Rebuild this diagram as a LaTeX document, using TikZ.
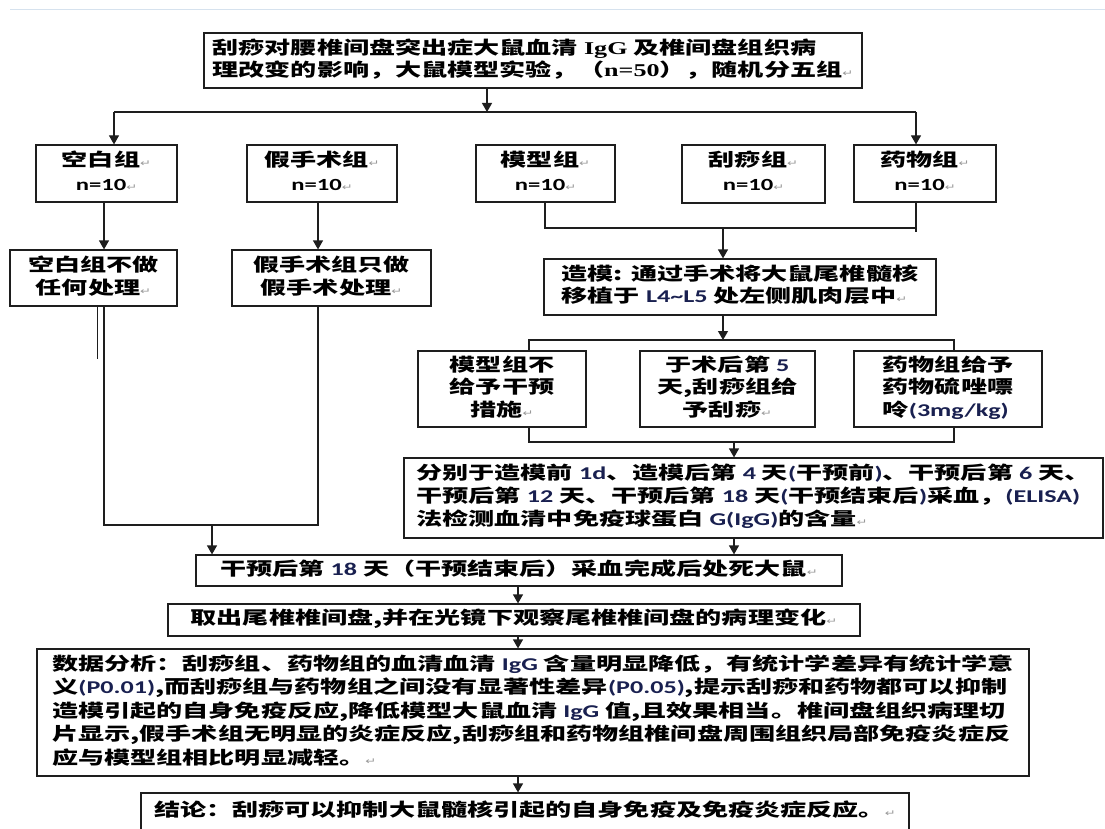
\documentclass[tikz,border=0pt]{standalone}
\usepackage{fontspec}
\usepackage{graphicx}
\setmainfont{Noto Sans CJK SC}
\newfontfamily\calfont{Carlito}
\newfontfamily\serfont{Liberation Serif}
\newfontfamily\dvfont{DejaVu Sans}
\usetikzlibrary{arrows.meta}
\definecolor{navy}{RGB}{25,32,80}
\definecolor{faint}{RGB}{214,226,238}
\definecolor{ink}{RGB}{30,30,30}
\newcommand\xs[1]{\scalebox{1.45}[1]{#1}}
\newcommand\rt{{\fontsize{9}{9}\selectfont\mdseries\dvfont\color{gray!80}↵}}
\newcommand\lt[1]{{\calfont\bfseries\color{navy}#1}}
\newcommand\nten{{\calfont\bfseries\fontsize{17}{17}\selectfont n=10}}
\newcommand\tl[2]{\xs{\begin{tabular}{@{}#1@{}}#2\end{tabular}}}
\tikzset{
  box/.style={draw=ink, line width=1.2pt, inner sep=0pt, text=black,
    font=\bfseries\fontsize{18}{23}\selectfont},
  conn/.style={draw=ink, line width=1.2pt},
  arr/.style={draw=ink, line width=1.2pt, -{Triangle[width=10pt,length=9pt]}},
}
\begin{document}
\begin{tikzpicture}[x=1pt,y=-1pt]
\useasboundingbox (0,0) rectangle (1105,829);
\clip (0,0) rectangle (1105,829);
\fill[white] (0,0) rectangle (1105,829);
\draw[faint, line width=1pt] (10,10) -- (1105,10);

% top
\node[box, minimum width=658pt, minimum height=55pt, font=\bfseries\fontsize{18}{21}\selectfont] (top) at (533,60.5)
  {\tl{l}{刮痧对腰椎间盘突出症大鼠血清 {\serfont IgG} 及椎间盘组织病\\理改变的影响，大鼠模型实验，（{\serfont n=50}），随机分五组\rt}};

% row 1
\node[box, minimum width=141pt, minimum height=57pt, font=\bfseries\fontsize{18}{24}\selectfont] (kb) at (106.5,173.5) {\tl{c}{空白组\rt\\\nten\rt}};
\node[box, minimum width=150pt, minimum height=57pt, font=\bfseries\fontsize{18}{24}\selectfont] (js) at (322,173.5) {\tl{c}{假手术组\rt\\\nten\rt}};
\node[box, minimum width=139pt, minimum height=57pt, font=\bfseries\fontsize{18}{24}\selectfont] (mx) at (545.5,173.5) {\tl{c}{模型组\rt\\\nten\rt}};
\node[box, minimum width=143pt, minimum height=58pt, font=\bfseries\fontsize{18}{24}\selectfont] (gs) at (753.5,174) {\tl{c}{刮痧组\rt\\\nten\rt}};
\node[box, minimum width=142pt, minimum height=57pt, font=\bfseries\fontsize{18}{24}\selectfont] (yw) at (925,173.5) {\tl{c}{药物组\rt\\\nten\rt}};

% row 2 left
\node[box, minimum width=167pt, minimum height=56pt] (kb2) at (93.5,278) {\tl{c}{空白组不做\\任何处理\rt}};
\node[box, minimum width=199pt, minimum height=56pt] (js2) at (331.5,278) {\tl{c}{假手术组只做\\假手术处理\rt}};

% right column
\node[box, minimum width=392pt, minimum height=56pt, font=\bfseries\fontsize{18}{21}\selectfont] (zm) at (740,287)
  {\tl{l}{造模: 通过手术将大鼠尾椎髓核\\移植于 \lt{L4\textasciitilde L5} 处左侧肌肉层中\rt}};
\node[box, minimum width=168pt, minimum height=76pt, font=\bfseries\fontsize{18}{22.5}\selectfont] (mx2) at (502,389) {\tl{c}{模型组不\\给予干预\\措施\rt}};
\node[box, minimum width=175pt, minimum height=76pt, font=\bfseries\fontsize{18}{22.5}\selectfont] (gs2) at (727.5,389) {\tl{c}{于术后第 \lt{5}\\天,刮痧组给\\予刮痧\rt}};
\node[box, minimum width=188pt, minimum height=76pt, font=\bfseries\fontsize{18}{22.5}\selectfont] (yw2) at (948,389) {\tl{l}{药物组给予\\药物硫唑嘌\\呤\lt{(3mg/kg)}}};
\node[box, minimum width=699pt, minimum height=80pt] (fb) at (753.5,498)
  {\tl{l}{分别于造模前 \lt{1d}、造模后第 \lt{4} 天\lt{(}干预前\lt{)}、干预后第 \lt{6} 天、\\干预后第 \lt{12} 天、干预后第 \lt{18} 天\lt{(}干预结束后\lt{)}采血，\lt{(ELISA)}\\法检测血清中免疫球蛋白 \lt{G(IgG)}的含量\rt}};

% lower column
\node[box, minimum width=646pt, minimum height=31pt] (g18) at (519,570.5) {\tl{c}{干预后第 \lt{18} 天（干预结束后）采血完成后处死大鼠\rt}};
\node[box, minimum width=692pt, minimum height=32pt] (qc) at (514,620) {\tl{c}{取出尾椎椎间盘,并在光镜下观察尾椎椎间盘的病理变化\rt}};
\node[box, minimum width=992pt, minimum height=127pt, font=\bfseries\fontsize{18}{23.5}\selectfont] (sj) at (533,712.5)
  {\tl{l}{数据分析：刮痧组、药物组的血清血清 \lt{IgG} 含量明显降低，有统计学差异有统计学意\\义\lt{(P0.01)},而刮痧组与药物组之间没有显著性差异\lt{(P0.05)},提示刮痧和药物都可以抑制\\造模引起的自身免疫反应,降低模型大鼠血清 \lt{IgG} 值,且效果相当。椎间盘组织病理切\\片显示,假手术组无明显的炎症反应,刮痧组和药物组椎间盘周围组织局部免疫炎症反\\应与模型组相比明显减轻。\rt}};
\node[box, minimum width=768pt, minimum height=38pt] (jl) at (525,812) {\tl{l}{结论：刮痧可以抑制大鼠髓核引起的自身免疫及免疫炎症反应。\rt}};

% connectors: top split
\coordinate (j0) at (487,112);
\coordinate (jl0) at (114,112);
\coordinate (jr0) at (916,112);
\draw[arr] (top.south -| j0) -- (j0);
\draw[conn] (jl0) -- (jr0);
\draw[arr] (jl0) -- (jl0 |- kb.north);
\draw[arr] (jr0) -- (jr0 |- yw.north);

% left groups
\coordinate (a1) at (104,0);
\coordinate (a2) at (318,0);
\draw[arr] (kb.south -| a1) -- (kb2.north -| a1);
\draw[arr] (js.south -| a2) -- (js2.north -| a2);
\coordinate (l1) at (104,525);
\coordinate (l2) at (318,525);
\coordinate (l3) at (212,525);
\draw[conn] (kb2.south -| l1) -- (l1) -- (l2) -- (js2.south -| l2);
\draw[arr] (l3) -- (g18.north -| l3);
\coordinate (s1) at (97,359);
\draw[draw=ink, line width=0.7pt] (kb2.south -| s1) -- (s1);

% right groups
\coordinate (m1) at (545,228);
\coordinate (m2) at (916,228);
\coordinate (m3) at (723,228);
\coordinate (m4) at (916,232);
\draw[conn] (mx.south -| m1) -- (m1) -- (m2);
\draw[conn] (yw.south -| m2) -- (m4);
\draw[arr] (m3) -- (zm.north -| m3);
\coordinate (z1) at (723,340);
\coordinate (z2) at (529,340);
\coordinate (z3) at (954,340);
\draw[arr] (zm.south -| z1) -- (z1);
\draw[conn] (mx2.north -| z2) -- (z2) -- (z3) -- (yw2.north -| z3);
\coordinate (b1) at (529,442);
\coordinate (b2) at (954,442);
\coordinate (b3) at (734,442);
\draw[conn] (mx2.south -| b1) -- (b1) -- (b2) -- (yw2.south -| b2);
\draw[arr] (b3) -- (fb.north -| b3);
\coordinate (c1) at (734,0);
\draw[arr] (fb.south -| c1) -- (g18.north -| c1);

% central column
\coordinate (d) at (518,0);
\draw[arr] (g18.south -| d) -- (qc.north -| d);
\draw[arr] (qc.south -| d) -- (sj.north -| d);
\draw[arr] (sj.south -| d) -- (jl.north -| d);
\end{tikzpicture}
\end{document}
